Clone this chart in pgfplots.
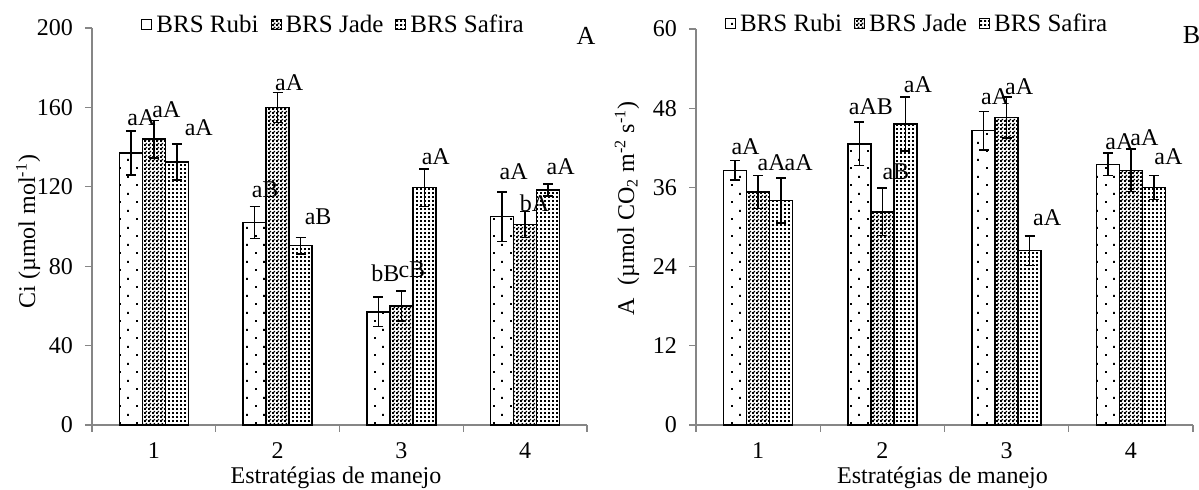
\documentclass[border=0pt]{standalone}
\usepackage{fontspec}
\setmainfont{Liberation Serif}
\usepackage{pgfplots}
\pgfplotsset{compat=1.18}
\usetikzlibrary{patterns.meta}

\definecolor{axgray}{RGB}{134,134,134}

% bar fills
\tikzdeclarepattern{name=rubidots, type=uncolored,
  bounding box={(0,0) and (8.5pt,8.3pt)}, tile size={(8.5pt,8.3pt)},
  code={\pgfpathrectangle{\pgfpoint{0pt}{0pt}}{\pgfpoint{1pt}{1pt}}
        \pgfpathrectangle{\pgfpoint{4.25pt}{4.15pt}}{\pgfpoint{1pt}{1pt}}
        \pgfusepath{fill}}}
\tikzdeclarepattern{name=jadecheck, type=uncolored,
  bounding box={(0,0) and (2pt,2pt)}, tile size={(2pt,2pt)},
  code={\pgfpathrectangle{\pgfpoint{0pt}{0pt}}{\pgfpoint{1.15pt}{1.15pt}}
        \pgfpathrectangle{\pgfpoint{1pt}{1pt}}{\pgfpoint{1pt}{1pt}}
        \pgfusepath{fill}}}
\tikzdeclarepattern{name=safiradots, type=uncolored,
  bounding box={(0,0) and (2pt,2pt)}, tile size={(2pt,2pt)},
  code={\pgfpathrectangle{\pgfpoint{0pt}{0pt}}{\pgfpoint{1.2pt}{1.1pt}}
        \pgfusepath{fill}}}

\pgfplotsset{
  painel/.style={
    scale only axis, clip=false,
    xmin=0.5, xmax=4.5, ymin=0,
    ybar=0pt, bar width=11.5pt,
    axis x line*=bottom, axis y line*=left,
    axis line style={axgray, line width=0.65pt},
    tick style={axgray, line width=0.65pt},
    tick align=outside, major tick length=3.5pt,
    xtick={0.5,1.5,2.5,3.5,4.5}, xticklabels={,,,,},
    extra x ticks={1,2,3,4}, extra x tick labels={1,2,3,4},
    extra x tick style={tick style={draw=none}, xticklabel style={yshift=-2pt}},
    yticklabel style={xshift=-2.5pt},
    ticklabel style={font=\fontsize{12}{14}\selectfont},
    /pgf/number format/assume math mode=true,
    label style={font=\fontsize{12}{14}\selectfont},
    xlabel={Estratégias de manejo},
    legend columns=-1,
    legend style={draw=none, fill=none, font=\fontsize{12.5}{14}\selectfont,
      /tikz/every even column/.append style={column sep=4pt}},
    legend image code/.code={\draw[##1, draw=black, line width=0.5pt] (0pt,-2.5pt) rectangle (5pt,2.5pt);},
  },
  barra/.style={draw=black, line width=0.7pt,
    error bars/y dir=both, error bars/y explicit,
    error bars/error bar style={black, line width=0.75pt},
    error bars/error mark options={rotate=90, black, mark size=2.5pt, line width=0.75pt}},
  rotulo/.style={only marks, mark=none, forget plot,
    nodes near coords, point meta=explicit symbolic,
    nodes near coords style={anchor=center, inner sep=0pt, font=\fontsize{12}{14}\selectfont}},
}

\pgfplotstableread{
x y e
1 137 11
2 102 8
3 57 7.5
4 105 12.5
}\ciRubi
\pgfplotstableread{
x y e
1 144 9.5
2 160 7.5
3 60 7.5
4 101 6.5
}\ciJade
\pgfplotstableread{
x y e
1 132.5 9
2 90.3 4.2
3 119.5 9.5
4 118.4 3
}\ciSafira
\pgfplotstableread{
x y lab
0.806 155 aA
1.008 158.7 aA
1.270 149.6 aA
1.806 118.4 aB
2.000 172.3 aA
2.234 105 aB
2.778 76.6 bB
2.992 78 cB
3.185 135 aA
3.815 127.6 aA
3.984 111.8 bA
4.194 130 aA
}\ciLab

\pgfplotstableread{
x y e
1 38.6 1.5
2 42.6 3.3
3 44.6 2.9
4 39.5 1.7
}\aRubi
\pgfplotstableread{
x y e
1 35.3 2.5
2 32.3 3.6
3 46.6 3.1
4 38.6 3.2
}\aJade
\pgfplotstableread{
x y e
1 34.0 3.4
2 45.6 4.1
3 26.4 2.2
4 36.0 1.8
}\aSafira
\pgfplotstableread{
x y lab
0.806 42.1 aA
1.016 39.8 aA
1.234 39.8 aA
1.815 48.2 aAB
2.016 38.3 aB
2.194 51.6 aA
2.815 49.8 aA
3.008 51.3 aA
3.234 31.4 aA
3.815 43 aA
4.016 43.6 aA
4.210 40.7 aA
}\aLab

\begin{document}
\begin{tikzpicture}
\begin{axis}[painel, at={(0pt,0pt)}, anchor=south west,
  width=247.5pt, height=198.5pt, ymax=200, ytick={0,40,...,200},
  ylabel={Ci (µmol mol\textsuperscript{-1})},
  ylabel style={at={(axis description cs:-0.129,0.487)}, anchor=center},
  xlabel style={at={(axis description cs:0.493,-0.1335)}, anchor=center},
  legend style={at={(0.49,1.0076)}, anchor=center}]
\addplot[barra, bar shift=-11.5pt, pattern=rubidots] table[x=x, y=y, y error=e] {\ciRubi};
\addlegendentry{BRS Rubi}
\addplot[barra, bar shift=0pt, pattern=jadecheck] table[x=x, y=y, y error=e] {\ciJade};
\addlegendentry{BRS Jade}
\addplot[barra, bar shift=11.5pt, pattern=safiradots] table[x=x, y=y, y error=e] {\ciSafira};
\addlegendentry{BRS Safira}
\addplot[rotulo] table[x=x, y=y, meta=lab] {\ciLab};
\node[font=\fontsize{13}{15}\selectfont] at (rel axis cs:0.998,0.98) {A};
\end{axis}

\begin{axis}[painel, at={(302pt,0pt)}, anchor=south west,
  width=248.5pt, height=198pt, ymax=60, ytick={0,12,...,60},
  ylabel={A\ \ (µmol CO\textsubscript{2} m\textsuperscript{-2} s\textsuperscript{-1})},
  ylabel style={at={(axis description cs:-0.139,0.547)}, anchor=center},
  xlabel style={at={(axis description cs:0.496,-0.134)}, anchor=center},
  legend style={at={(0.447,1.0127)}, anchor=center}]
\addplot[barra, bar shift=-11.5pt, pattern=rubidots] table[x=x, y=y, y error=e] {\aRubi};
\addlegendentry{BRS Rubi}
\addplot[barra, bar shift=0pt, pattern=jadecheck] table[x=x, y=y, y error=e] {\aJade};
\addlegendentry{BRS Jade}
\addplot[barra, bar shift=11.5pt, pattern=safiradots] table[x=x, y=y, y error=e] {\aSafira};
\addlegendentry{BRS Safira}
\addplot[rotulo] table[x=x, y=y, meta=lab] {\aLab};
\node[font=\fontsize{13}{15}\selectfont] at (rel axis cs:0.997,0.985) {B};
\end{axis}
\pgfresetboundingbox
\useasboundingbox (-46pt,-32.5pt) rectangle (553.5pt,212.5pt);
\end{tikzpicture}
\end{document}
